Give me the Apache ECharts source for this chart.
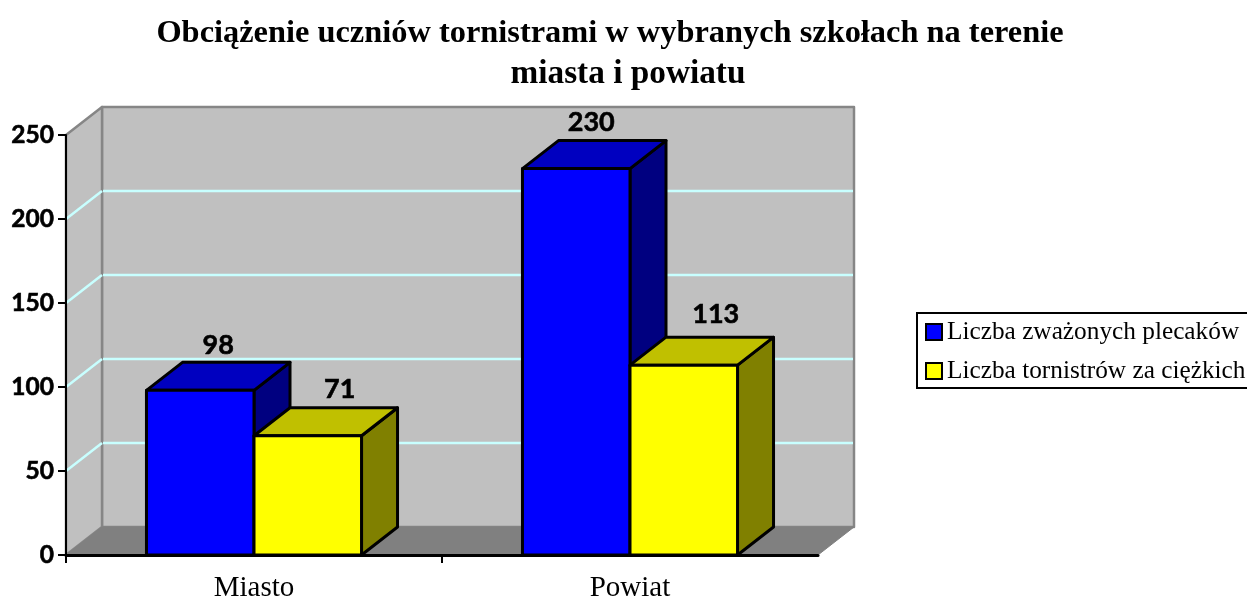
<!DOCTYPE html>
<html>
<head>
<meta charset="utf-8">
<style>html,body{margin:0;padding:0;background:#fff;overflow:hidden}#chart{width:1247px;height:598px}</style>
<script src="https://cdn.jsdelivr.net/npm/echarts@6/dist/echarts.min.js"></script>
</head>
<body>
<div id="chart"></div>
<script>
var categories = ['Miasto', 'Powiat'];
var plecaki = [98, 230];
var ciezkie = [71, 113];
var gridTicks = [50, 100, 150, 200];

// przesuniecie "glebi" wykresu 3D w pikselach
var depthX = 36, depthY = 28;
var barShare = 0.286;
var serif = '"Liberation Serif", serif';
// etykiety byly przesuwane recznie w oryginale: [dx, dy] dla kazdej kategorii
var labelNudgeBlue = [[0, -17], [-3, -18]];
var labelNudgeYellow = [[14, -18], [14, -23]];

function poly(points, fill, stroke, width) {
    return {
        type: 'polygon',
        shape: {points: points},
        style: {fill: fill, stroke: stroke, lineWidth: width, lineJoin: 'round'}
    };
}

function line(x1, y1, x2, y2, color, width) {
    return {
        type: 'line',
        shape: {x1: x1, y1: y1, x2: x2, y2: y2},
        style: {stroke: color, lineWidth: width}
    };
}

// sciany i podloga
function renderWalls(params, api) {
    var g = params.coordSys;
    var l = g.x, r = g.x + g.width, t = g.y, b = g.y + g.height;
    var grey = '#868686';
    return {
        type: 'group',
        children: [
            poly([[l + depthX, t - depthY], [r + depthX, t - depthY], [r + depthX, b - depthY], [l + depthX, b - depthY]], '#c0c0c0', grey, 2.5),
            poly([[l, b], [l + depthX, b - depthY], [l + depthX, t - depthY], [l, t]], '#c0c0c0', grey, 2.5),
            poly([[l, b], [l + depthX, b - depthY], [r + depthX, b - depthY], [r, b]], '#808080', '#808080', 1)
        ]
    };
}

function renderGridLine(params, api) {
    var g = params.coordSys;
    var p = api.coord([0, api.value(0)]);
    var color = '#c8ffff';
    return {
        type: 'group',
        children: [
            line(g.x, p[1], g.x + depthX, p[1] - depthY, color, 2.5),
            line(g.x + depthX + 1, p[1] - depthY, g.x + g.width + depthX - 1, p[1] - depthY, color, 2.5)
        ]
    };
}

function renderTick(params, api) {
    var g = params.coordSys;
    var band = api.size([1, 0])[0];
    var p = api.coord([api.value(0), 0]);
    var x = p[0] - band / 2;
    return line(x, g.y + g.height, x, g.y + g.height + 8, '#000', 2);
}

function barRenderer(shift, front, top, side, nudge) {
    return function (params, api) {
        var band = api.size([1, 0])[0];
        var w = band * barShare;
        var p = api.coord([api.value(0), api.value(1)]);
        var base = api.coord([api.value(0), 0]);
        var x0 = p[0] + shift * w, x1 = x0 + w, y0 = p[1], y1 = base[1];
        var n = nudge[params.dataIndex];
        return {
            type: 'group',
            children: [
                poly([[x1, y1], [x1 + depthX, y1 - depthY], [x1 + depthX, y0 - depthY], [x1, y0]], side, '#000', 3),
                poly([[x0, y0], [x0 + depthX, y0 - depthY], [x1 + depthX, y0 - depthY], [x1, y0]], top, '#000', 3),
                poly([[x0, y0], [x1, y0], [x1, y1], [x0, y1]], front, '#000', 3),
                {
                    type: 'text',
                    style: {
                        text: String(api.value(1)),
                        x: (x0 + x1) / 2 + depthX / 2 + n[0],
                        y: y0 - depthY + n[1],
                        align: 'center',
                        verticalAlign: 'middle',
                        fill: '#000',
                        stroke: '#000',
                        lineWidth: 0.6,
                        font: 'bold 27px Lato, sans-serif'
                    }
                }
            ]
        };
    };
}

var myChart = echarts.init(document.getElementById('chart'), null, {renderer: 'canvas'});

var option = {
    animation: false,
    backgroundColor: '#fff',
    title: [
        {
            text: 'Obciążenie uczniów tornistrami w wybranych szkołach na terenie',
            left: 610, top: 18, textAlign: 'center', padding: 0,
            textStyle: {fontFamily: serif, fontWeight: 'bold', fontSize: 32.4, color: '#000'}
        },
        {
            text: 'miasta i powiatu',
            left: 628, top: 58, textAlign: 'center', padding: 0,
            textStyle: {fontFamily: serif, fontWeight: 'bold', fontSize: 33.3, color: '#000'}
        }
    ],
    legend: {
        data: ['Liczba zważonych plecaków', 'Liczba tornistrów za ciężkich'],
        orient: 'vertical',
        left: 917,
        top: 313,
        padding: [5, 8, 3, 8],
        itemGap: 11,
        itemWidth: 16,
        itemHeight: 16,
        icon: 'rect',
        borderColor: '#000',
        borderWidth: 2,
        backgroundColor: '#fff',
        selectedMode: false,
        textStyle: {fontFamily: serif, fontSize: 25.3, lineHeight: 28, color: '#000'}
    },
    grid: {left: 66, right: 429, top: 135, bottom: 43, containLabel: false, outerBoundsMode: 'none'},
    xAxis: {
        type: 'category',
        data: categories,
        z: 5,
        axisLine: {lineStyle: {color: '#000', width: 3}},
        axisTick: {show: false},
        axisLabel: {fontFamily: serif, fontSize: 29, color: '#000', margin: 19}
    },
    yAxis: {
        type: 'value',
        min: 0,
        max: 250,
        interval: 50,
        z: 5,
        splitLine: {show: false},
        axisLine: {show: true, lineStyle: {color: '#000', width: 2}},
        axisTick: {show: true, length: 8, lineStyle: {color: '#000', width: 2}},
        axisLabel: {
            fontFamily: 'Lato, sans-serif', fontWeight: 'bold', fontSize: 24.5, color: '#000', margin: 12,
            textBorderColor: '#000', textBorderWidth: 0.6
        }
    },
    series: [
        {type: 'custom', silent: true, z: 1, data: [[0]], renderItem: renderWalls},
        {type: 'custom', silent: true, z: 1, data: gridTicks.map(function (v) { return [v]; }), encode: {y: 0}, renderItem: renderGridLine},
        {type: 'custom', silent: true, z: 1, data: categories.map(function (c, i) { return [i]; }), encode: {x: 0}, renderItem: renderTick},
        {
            type: 'custom',
            name: 'Liczba zważonych plecaków',
            z: 2,
            itemStyle: {color: '#0000ff', borderColor: '#000', borderWidth: 2},
            data: plecaki.map(function (v, i) { return [i, v]; }),
            encode: {x: 0, y: 1},
            renderItem: barRenderer(-1, '#0000ff', '#0000c0', '#000080', labelNudgeBlue)
        },
        {
            type: 'custom',
            name: 'Liczba tornistrów za ciężkich',
            z: 3,
            itemStyle: {color: '#ffff00', borderColor: '#000', borderWidth: 2},
            data: ciezkie.map(function (v, i) { return [i, v]; }),
            encode: {x: 0, y: 1},
            renderItem: barRenderer(0, '#ffff00', '#c0c000', '#808000', labelNudgeYellow)
        }
    ]
};
myChart.setOption(option);
</script>
</body>
</html>
